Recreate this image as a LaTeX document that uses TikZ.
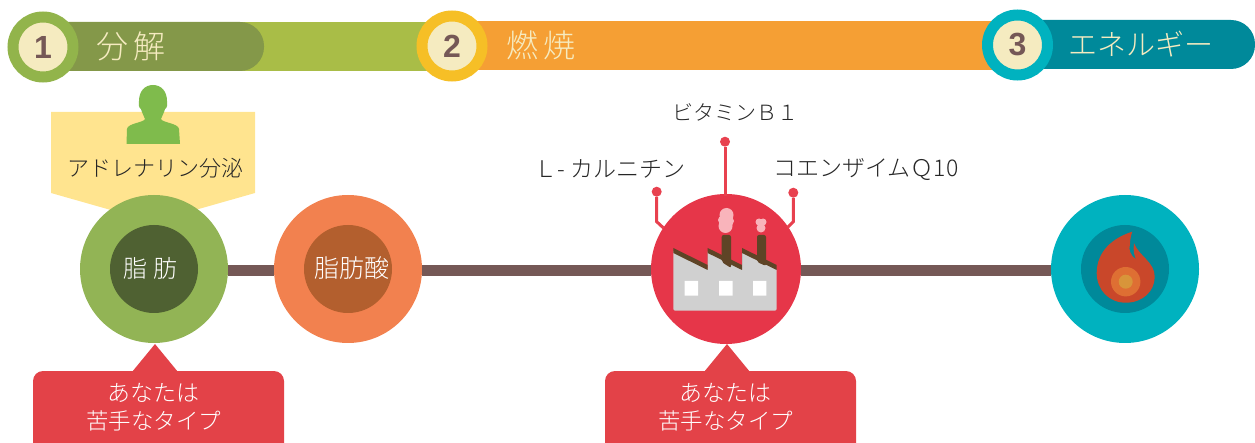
\documentclass[tikz,border=0pt]{standalone}
\usepackage{fontspec}
\setmainfont{Noto Sans CJK JP}[UprightFont=* Light]
\newfontfamily\numfont{Liberation Sans}
\usetikzlibrary{positioning, calc}
\definecolor{linebrown}{HTML}{755856}
\definecolor{cream}{HTML}{F5EBC0}
\definecolor{teal1}{HTML}{00B2BF}
\definecolor{teal2}{HTML}{00899A}
\definecolor{pinred}{HTML}{E8414F}
\definecolor{callred}{HTML}{E34248}
\definecolor{chimney}{HTML}{5E4426}
\definecolor{bargreen}{HTML}{A9BD47}
\definecolor{pillgreen}{HTML}{849849}
\definecolor{barorange}{HTML}{F59F34}
\definecolor{ringgreen}{HTML}{92B44B}
\definecolor{ringyellow}{HTML}{F6BF26}
\definecolor{tagyellow}{HTML}{FFE48F}
\definecolor{persongreen}{HTML}{7FBB4C}
\definecolor{fatgreen}{HTML}{92B455}
\definecolor{fatdark}{HTML}{4F6132}
\definecolor{acidorange}{HTML}{F2814F}
\definecolor{aciddark}{HTML}{B35F2E}
\definecolor{factoryred}{HTML}{E63649}
\definecolor{wallgrey}{HTML}{D0D0D0}
\definecolor{smokepink}{HTML}{F9B4BB}
\definecolor{flame}{HTML}{C9472A}
\definecolor{flamemid}{HTML}{DE6F33}
\definecolor{flamecore}{HTML}{D8953A}
\newcommand{\fsize}[1]{\fontsize{#1}{#1}\selectfont}
\tikzset{
  ring/.style={circle, draw=#1, line width=11pt, fill=cream, minimum size=60pt, inner sep=0pt, text=linebrown, font=\numfont\bfseries\fsize{32}},
  bigdisc/.style={circle, fill=#1, minimum size=148pt, inner sep=0pt},
  smalldisc/.style={circle, fill=#1, minimum size=88pt, inner sep=0pt},
  headtext/.style={text=cream, font=\fsize{32}},
  tagtext/.style={text=black!85, font=\fsize{21}},
  disctext/.style={text=white, font=\fsize{24}},
  calltext/.style={text=white, font=\fsize{23}, align=center},
  pindot/.style={circle, fill=pinred, minimum size=10pt, inner sep=0pt},
  pinline/.style={draw=pinred, line width=3pt},
  mainline/.style={linebrown, line width=11pt},
}
\begin{document}
\begin{tikzpicture}[x=1pt, y=-1pt]
  \useasboundingbox (0,0) rectangle (1255,443);

  % header bars
  \fill[bargreen] (40,22) rectangle (440,71);
  \fill[pillgreen, rounded corners=24pt] (40,22) rectangle (264,71);
  \fill[barorange] (470,21) rectangle (1000,70);
  \fill[teal2, rounded corners=24pt] (1000,20) rectangle (1255,69);

  \node[ring=ringgreen] (num1) at (43,47) {1};
  \node[ring=ringyellow] (num2) at (452,46) {2};
  \node[ring=teal1] (num3) at (1017.5,45) {3};

  \node[headtext] (title1) at (131,46) {分\hspace{6pt}解};
  \node[headtext] (title2) at (541,45) {燃\hspace{6pt}焼};
  \node[headtext, font=\fsize{29}] (title3) at (1141,44) {エネルギー};

  % adrenaline tag and person
  \fill[tagyellow] (51,112) -- (255,112) -- (255,193) -- (153,222) -- (51,193) -- cycle;
  \fill[persongreen] (153,85)
    .. controls (161,85) and (167,91) .. (167,101)
    .. controls (168,104) and (167,108) .. (165,109)
    .. controls (164,113) and (162,116) .. (161,119)
    .. controls (163,123) and (178,123) .. (179,129)
    -- (180,144) -- (126.5,144) -- (127,129)
    .. controls (128,123) and (143,123) .. (145,119)
    .. controls (144,116) and (142,113) .. (141,109)
    .. controls (139,108) and (138,104) .. (139,101)
    .. controls (139,91) and (145,85) .. (153,85) -- cycle;
  \node[tagtext, font=\fsize{22}] (adrenaline) at (155,168) {アドレナリン分泌};

  % main circles
  \node[bigdisc=fatgreen] (fat) at (154,269) {};
  \node[bigdisc=acidorange] (acid) at (348,269) {};
  \node[bigdisc=factoryred, minimum size=150pt] (factory) at (726,269) {};
  \node[bigdisc=teal1] (fire) at (1125,269) {};
  \draw[mainline] ([yshift=-1.5pt]fat.east) -- ([yshift=-1.5pt]acid.west);
  \draw[mainline] ([yshift=-1.5pt]acid.east) -- ([yshift=-1.5pt]factory.west);
  \draw[mainline] ([yshift=-1.5pt]factory.east) -- ([yshift=-1.5pt]fire.west);

  \node[smalldisc=fatdark] (fatin) at (154,269) {};
  \node[smalldisc=aciddark] (acidin) at (348,269) {};
  \node[smalldisc=teal2] (firein) at (1125,269) {};
  \node[disctext] (fattext) at (150,268) {脂\hspace{6pt}肪};
  \node[disctext, font=\fsize{25}] (acidtext) at (352,268) {脂肪酸};

  % factory
  \fill[wallgrey, rounded corners=2pt] (673.3,250) -- (707.7,270) -- (707.7,250) -- (742,270) -- (742,250) -- (776.7,268) -- (776.7,310.7) -- (673.3,310.7) -- cycle;
  \fill[chimney, rounded corners=2pt] (721.7,262) -- (721.7,235) -- (731,235) -- (731,268) -- cycle;
  \fill[chimney, rounded corners=2pt] (757,262) -- (757,235) -- (766,235) -- (766,266) -- cycle;
  \fill[chimney] (673.3,248) -- (707.7,265) -- (707.7,248) -- (742,265) -- (742,248) -- (776.7,265) -- (776.7,270) -- (742,253) -- (742,270) -- (707.7,253) -- (707.7,270) -- (673.3,253) -- cycle;
  \fill[white] (684.7,281) rectangle (698,295.7) (719,281) rectangle (732.7,295.7) (753,281) rectangle (766.3,295.7);
  \fill[smokepink] (726.5,215) circle[radius=7pt] (725.5,226) circle[radius=7pt] (722,220) circle[radius=4pt] (729,221) circle[radius=5pt];
  \fill[smokepink] (759,222) circle[radius=3.5pt] (763,222) circle[radius=3.5pt] (761,228) circle[radius=4.5pt];

  % pins
  \node[pindot] (pinl) at (656.7,191.7) {};
  \node[pindot] (pinm) at (725,141.7) {};
  \node[pindot] (pinr) at (793.3,192.7) {};
  \coordinate (pinlb) at (656.7,221.7);
  \coordinate (pinrb) at (793.3,221.7);
  \draw[pinline] (pinl) -- (pinlb) -- (663.5,228);
  \draw[pinline] (pinm) -- (725,196);
  \draw[pinline] (pinr) -- (pinrb) -- (787.5,227.5);

  \node[tagtext] (vitamin) at (735,112) {ビタミンＢ１};
  \node[tagtext, font=\fsize{23}] (carnitine) at (610,169) {Ｌ- カルニチン};
  \node[tagtext, font=\fsize{23}] (coenzyme) at (866,169) {コエンザイムＱ10};

  % flame
  \fill[flame] (1132.3,231.7)
    .. controls (1112,238) and (1096.7,252) .. (1096.7,273)
    .. controls (1096.7,290) and (1109,302.7) .. (1125.7,302.7)
    .. controls (1143,302.7) and (1154.7,291) .. (1154.7,276.7)
    .. controls (1154.7,262) and (1139,256) .. (1134,243.3)
    .. controls (1133,250) and (1134,255) .. (1136,259.3)
    .. controls (1131,256) and (1128,250) .. (1130,244)
    .. controls (1130,240) and (1131,235) .. (1132.3,231.7) -- cycle;
  \fill[flamemid] (1125.7,281.7) circle[radius=14.7pt];
  \fill[flamecore] (1125.7,281.7) circle[radius=7pt];

  % callouts
  \fill[callred] (33,443) [rounded corners=10pt] -- (33,371) -- (284,371) [sharp corners] -- (284,443) -- cycle;
  \fill[callred] (132,372) -- (155,344) -- (178,372) -- cycle;
  \fill[callred] (605,443) [rounded corners=10pt] -- (605,371) -- (856,371) [sharp corners] -- (856,443) -- cycle;
  \fill[callred] (704,372) -- (727,344) -- (750,372) -- cycle;
  \node[calltext] (weak1a) at (153.5,393) {あなたは};
  \node[calltext, font=\fsize{22.5}] (weak1b) at (153.5,421) {苦手なタイプ};
  \node[calltext] (weak2a) at (725.5,393) {あなたは};
  \node[calltext, font=\fsize{22.5}] (weak2b) at (725.5,421) {苦手なタイプ};
\end{tikzpicture}
\end{document}
